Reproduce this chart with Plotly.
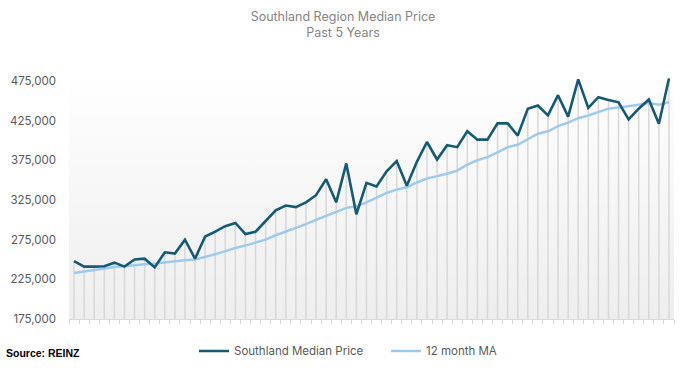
import plotly.graph_objects as go

# Month index (60 months, "Past 5 Years")
months = list(range(60))

median_price = [248000, 241000, 241000, 241500, 246000, 241000, 250000, 251000, 240000, 259000,
                257500, 275000, 251000, 279000, 285000, 292000, 296000, 282000, 285000, 299000,
                312000, 318000, 316000, 322000, 331000, 351000, 322000, 371000, 307000, 346500,
                342000, 361000, 374000, 343000, 373000, 398000, 376000, 394000, 391500, 411500,
                401000, 401000, 421500, 421500, 406000, 440000, 444000, 431500, 457000, 430000,
                477000, 441000, 454500, 451000, 448000, 426500, 440000, 451500, 421000, 478000]

ma12 = [233000, 235000, 237000, 239000, 240500, 241500, 243000, 244000, 245000, 246500,
        248000, 249000, 250000, 253000, 256500, 260500, 264500, 267500, 271000, 275000,
        280500, 285000, 290000, 294500, 300000, 305500, 310000, 315000, 317000, 322000,
        328000, 334000, 338000, 341000, 347000, 352000, 355000, 358000, 362000, 369500,
        375000, 379000, 385000, 391500, 394500, 402000, 408500, 411500, 418000, 422500,
        428000, 431500, 435500, 440000, 441500, 443000, 445000, 447000, 445000, 448000]

y_ticks = [175000, 225000, 275000, 325000, 375000, 425000, 475000]
y_tick_labels = ["175,000", "225,000", "275,000", "325,000", "375,000", "425,000", "475,000"]

Y_MIN, Y_MAX = 175000, 490000
X_MIN, X_MAX = -0.5, len(months) - 0.5

# vertical drop lines from the axis up to each median point
drop_x, drop_y = [], []
for m, v in zip(months, median_price):
    drop_x += [m, m, None]
    drop_y += [Y_MIN, v, None]

fig = go.Figure()

# gradient background of the plot area
fig.add_trace(go.Scatter(
    x=[X_MIN, X_MAX, X_MAX, X_MIN, X_MIN],
    y=[Y_MIN, Y_MIN, Y_MAX, Y_MAX, Y_MIN],
    fill="toself", mode="none",
    fillgradient=dict(type="vertical", colorscale=[[0, "#eeeeee"], [1, "#ffffff"]]),
    showlegend=False, hoverinfo="skip"))

fig.add_trace(go.Scatter(
    x=drop_x, y=drop_y, mode="lines",
    line=dict(color="#d8d8d8", width=1.5),
    showlegend=False, hoverinfo="skip"))

fig.add_trace(go.Scatter(
    x=months, y=ma12, mode="lines", name="12 month MA",
    line=dict(color="#9ecbec", width=2.5), cliponaxis=False))

fig.add_trace(go.Scatter(
    x=months, y=median_price, mode="lines", name="Southland Median Price",
    line=dict(color="#155a73", width=2.6), cliponaxis=False))

fig.update_layout(
    width=686, height=371,
    margin=dict(l=69, r=12, t=69, b=52, autoexpand=False),
    paper_bgcolor="white", plot_bgcolor="white",
    font=dict(family="Inter, Noto Sans, sans-serif", color="#595959", size=11),
    title=dict(text="Southland Region Median Price<br>Past 5 Years",
               x=0.5, xanchor="center", yref="container", y=0.944, yanchor="top",
               font=dict(size=12.5, color="#858585")),
    showlegend=True,
    legend=dict(orientation="h", traceorder="reversed",
                xref="container", yref="container",
                x=194 / 686, xanchor="left", y=0.054, yanchor="middle",
                font=dict(size=11.5, color="#595959"),
                itemwidth=30, entrywidth=147, entrywidthmode="pixels",
                bgcolor="rgba(0,0,0,0)"),
)

fig.update_xaxes(
    range=[X_MIN, X_MAX], showgrid=False, zeroline=False,
    showline=True, linecolor="#d9d9d9", linewidth=1,
    tickmode="array", tickvals=[i - 0.5 for i in range(len(months) + 1)],
    ticks="outside", ticklen=4, tickcolor="#d9d9d9", showticklabels=False)

fig.update_yaxes(
    range=[Y_MIN, Y_MAX], showgrid=False, zeroline=False, showline=False,
    tickmode="array", tickvals=y_ticks, ticktext=y_tick_labels,
    ticks="", ticklabelstandoff=12, tickfont=dict(size=11.5, color="#595959"))

fig.add_annotation(
    text="<b>Source: REINZ</b>", xref="paper", yref="paper",
    x=(4 - 69) / 605, xanchor="left", y=(319 - 353) / 250, yanchor="middle",
    showarrow=False, font=dict(size=10.5, color="#000000", family="Liberation Sans, Arial, sans-serif"))

fig.write_html("out.html", config={"displayModeBar": False},
               post_script="document.body.style.margin='0';")
